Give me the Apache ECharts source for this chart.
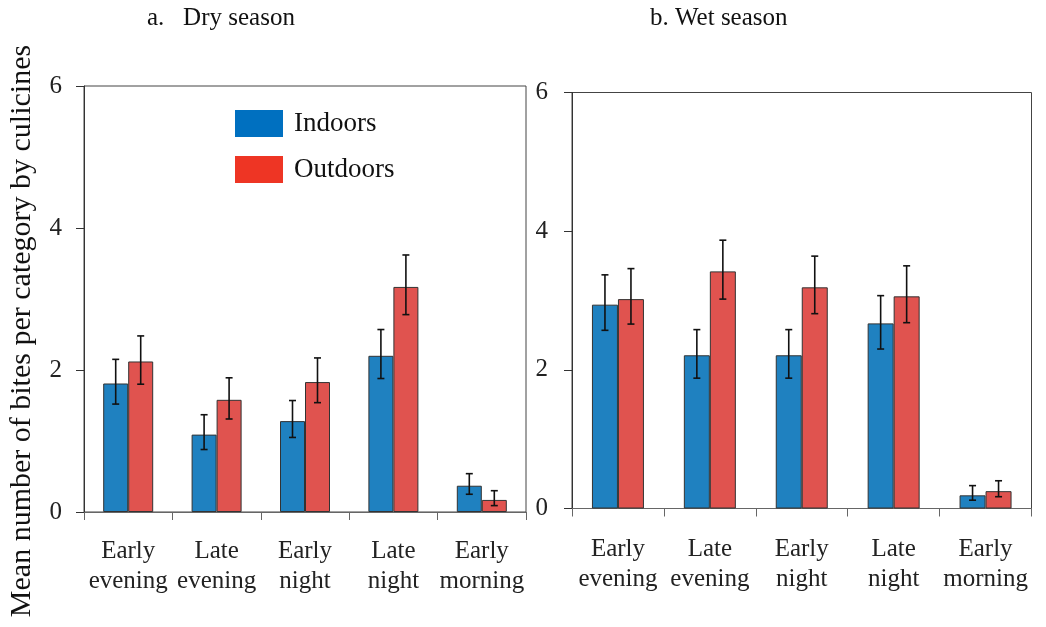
<!DOCTYPE html>
<html>
<head>
<meta charset="utf-8">
<script src="https://cdn.jsdelivr.net/npm/echarts@6/dist/echarts.min.js"></script>
<style>
  html, body { margin: 0; padding: 0; background: #fff; }
  #chart { width: 1046px; height: 627px; }
</style>
</head>
<body>
<div id="chart"></div>
<script>
// Time-of-night categories shared by both seasons
const categories = ['Early\nevening', 'Late\nevening', 'Early\nnight', 'Late\nnight', 'Early\nmorning'];
const yTicks = [0, 2, 4, 6];

// Dry season: means and error-bar limits
const dryIndoors      = [1.81, 1.09, 1.28, 2.20, 0.37];
const dryIndoorsLow   = [1.52, 0.88, 1.05, 1.88, 0.25];
const dryIndoorsHigh  = [2.15, 1.37, 1.57, 2.57, 0.54];
const dryOutdoors     = [2.12, 1.58, 1.83, 3.17, 0.17];
const dryOutdoorsLow  = [1.80, 1.31, 1.54, 2.78, 0.09];
const dryOutdoorsHigh = [2.48, 1.89, 2.17, 3.62, 0.30];

// Wet season: means and error-bar limits
const wetIndoors      = [2.94, 2.21, 2.21, 2.67, 0.19];
const wetIndoorsLow   = [2.57, 1.88, 1.88, 2.30, 0.12];
const wetIndoorsHigh  = [3.37, 2.58, 2.58, 3.07, 0.33];
const wetOutdoors     = [3.02, 3.42, 3.19, 3.06, 0.25];
const wetOutdoorsLow  = [2.66, 3.02, 2.81, 2.68, 0.17];
const wetOutdoorsHigh = [3.46, 3.87, 3.64, 3.50, 0.40];

const FONT = '"Liberation Serif", "Times New Roman", serif';
const BLUE = '#1f81c0';
const RED = '#e0534f';

function errData(low, high) {
  return low.map((l, i) => [i, l, high[i]]);
}

function errorBars(shift) {
  return function (params, api) {
    const i = api.value(0);
    const lo = api.coord([i, api.value(1)]);
    const hi = api.coord([i, api.value(2)]);
    const cx = lo[0] + shift;
    const cap = 3.5;
    const style = { stroke: '#111', lineWidth: 1.6 };
    return {
      type: 'group',
      children: [
        { type: 'line', shape: { x1: cx, y1: hi[1], x2: cx, y2: lo[1] }, style },
        { type: 'line', shape: { x1: cx - cap, y1: hi[1], x2: cx + cap, y2: hi[1] }, style },
        { type: 'line', shape: { x1: cx - cap, y1: lo[1], x2: cx + cap, y2: lo[1] }, style }
      ]
    };
  };
}

function xAxisFor(gridIndex, margin) {
  return {
    type: 'category', gridIndex, data: categories,
    axisLine: { lineStyle: { color: '#666', width: 1 } },
    axisTick: { show: true, length: 8, inside: false, lineStyle: { color: '#666' } },
    axisLabel: { fontFamily: FONT, fontSize: 25, color: '#222', lineHeight: 30, margin, interval: 0 }
  };
}

function yAxisFor(gridIndex, margin) {
  return {
    type: 'value', gridIndex, min: yTicks[0], max: yTicks[yTicks.length - 1], interval: 2,
    axisLine: { show: true, lineStyle: { color: '#333', width: 1 } },
    axisTick: { show: true, length: 8, inside: false, lineStyle: { color: '#333' } },
    splitLine: { show: false },
    axisLabel: { fontFamily: FONT, fontSize: 25, color: '#222', margin }
  };
}

function barSeries(name, data, idx, color, width) {
  return {
    name, type: 'bar', xAxisIndex: idx, yAxisIndex: idx, data,
    barWidth: width, barGap: '0%',
    itemStyle: { color, borderColor: '#333', borderWidth: 1 }
  };
}

function errSeries(name, low, high, idx, shift) {
  return {
    name, type: 'custom', xAxisIndex: idx, yAxisIndex: idx,
    data: errData(low, high), encode: { x: 0, y: [1, 2] },
    renderItem: errorBars(shift), z: 10, silent: true
  };
}

const chart = echarts.init(document.getElementById('chart'), null, { renderer: 'canvas' });

chart.setOption({
  animation: false,
  backgroundColor: '#fff',
  grid: [
    { left: 84, top: 86, width: 442, height: 426, show: true, borderColor: '#444', borderWidth: 1, backgroundColor: 'transparent' },
    { left: 572, top: 92.5, width: 459.5, height: 416, show: true, borderColor: '#444', borderWidth: 1, backgroundColor: 'transparent' }
  ],
  xAxis: [xAxisFor(0, 24), xAxisFor(1, 26)],
  yAxis: [yAxisFor(0, 22), yAxisFor(1, 24)],
  legend: {
    orient: 'vertical', left: 235, top: 110, padding: 0,
    itemWidth: 48, itemHeight: 27, itemGap: 19,
    icon: 'rect',
    textStyle: { fontFamily: FONT, fontSize: 27, color: '#111', padding: [0, 0, 0, 6] },
    data: [
      { name: 'Indoors', itemStyle: { color: '#0070c0', borderWidth: 0 } },
      { name: 'Outdoors', itemStyle: { color: '#ee3524', borderWidth: 0 } }
    ]
  },
  graphic: [
    {
      type: 'text', x: 147, y: 18,
      style: { text: 'a.   Dry season', font: '25px ' + FONT, fill: '#111', textAlign: 'left', textVerticalAlign: 'middle', align: 'left', verticalAlign: 'middle' }
    },
    {
      type: 'text', x: 650, y: 18,
      style: { text: 'b. Wet season', font: '25px ' + FONT, fill: '#111', textAlign: 'left', textVerticalAlign: 'middle', align: 'left', verticalAlign: 'middle' }
    },
    {
      type: 'text', x: 22, y: 331, rotation: Math.PI / 2,
      style: { text: 'Mean number of bites per category by culicines', font: '30px ' + FONT, fill: '#111', textAlign: 'center', textVerticalAlign: 'middle', align: 'center', verticalAlign: 'middle' }
    }
  ],
  series: [
    barSeries('Indoors', dryIndoors, 0, BLUE, 25),
    barSeries('Outdoors', dryOutdoors, 0, RED, 25),
    barSeries('Indoors', wetIndoors, 1, BLUE, 26),
    barSeries('Outdoors', wetOutdoors, 1, RED, 26),
    errSeries('Indoors error', dryIndoorsLow, dryIndoorsHigh, 0, -12.5),
    errSeries('Outdoors error', dryOutdoorsLow, dryOutdoorsHigh, 0, 12.5),
    errSeries('Indoors error wet', wetIndoorsLow, wetIndoorsHigh, 1, -13),
    errSeries('Outdoors error wet', wetOutdoorsLow, wetOutdoorsHigh, 1, 13)
  ]
});
</script>
</body>
</html>
